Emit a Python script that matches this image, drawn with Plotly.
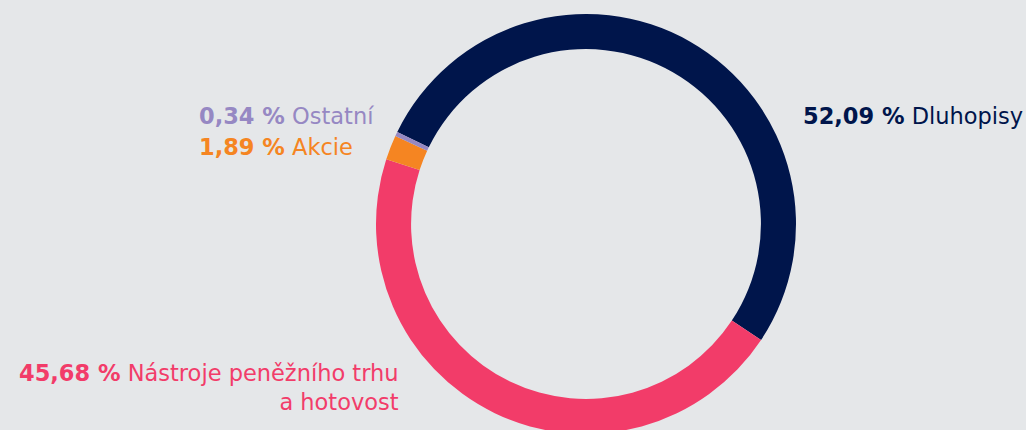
import plotly.graph_objects as go

labels = ["Dluhopisy", "Nástroje peněžního trhu<br>a hotovost", "Akcie", "Ostatní"]
values = [52.09, 45.68, 1.89, 0.34]
colors = ["#00154B", "#F23C69", "#F58522", "#9688C3"]

W, H = 1026, 440
MT, MB = 14, 6

def fx(px):
    return px / W

def fy(py):
    return (H - MB - py) / (H - MT - MB)

fig = go.Figure()
fig.add_trace(go.Pie(
    labels=labels, values=values, sort=False, direction="clockwise",
    rotation=-64, hole=0.833, textinfo="none", hoverinfo="label+percent",
    marker=dict(colors=colors, line=dict(width=0)),
    domain=dict(x=[fx(586) - 0.3, fx(586) + 0.3], y=[0, 1]),
    showlegend=False,
))

def fmt(v):
    return f"{v:.2f}".replace(".", ",") + " %"

# label placement: (pixel x, pixel y of text center, xanchor, align)
placements = [
    (801, 116, "left", "left"),
    (401, 387, "right", "right"),
    (197, 147, "left", "left"),
    (197, 116, "left", "left"),
]
font_family = "DejaVu Sans"
for lab, v, c, (px, py, xa, al) in zip(labels, values, colors, placements):
    fig.add_annotation(
        x=fx(px), y=fy(py), xref="paper", yref="paper",
        xanchor=xa, yanchor="middle", align=al, showarrow=False,
        text=f"<b>{fmt(v)}</b> {lab}",
        font=dict(family=font_family, size=22.5, color=c),
    )

fig.update_layout(
    width=W, height=H,
    margin=dict(l=0, r=0, t=MT, b=MB),
    paper_bgcolor="#E5E7E9", plot_bgcolor="#E5E7E9",
)
fig.write_html(
    "out.html",
    config={"displayModeBar": False},
    post_script="document.body.style.margin='0';document.body.style.overflow='hidden';document.body.style.background='#E5E7E9';",
)
